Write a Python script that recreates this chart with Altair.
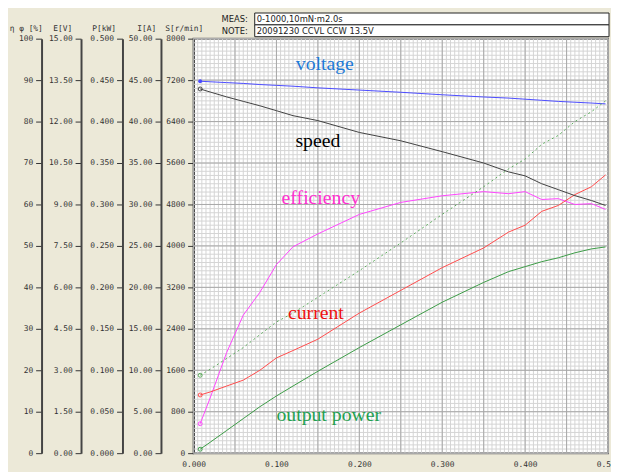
import altair as alt
import pandas as pd

# ---- data ----
torque = [0.008, 0.02, 0.04, 0.06, 0.08, 0.10, 0.12, 0.15, 0.20, 0.25, 0.30,
          0.35, 0.38, 0.40, 0.42, 0.44, 0.46, 0.48, 0.497]          # N·m
voltage = [13.46, 13.44, 13.41, 13.38, 13.34, 13.31, 13.28, 13.22, 13.14, 13.06, 12.97,
           12.89, 12.85, 12.81, 12.77, 12.73, 12.70, 12.67, 12.64]  # V
speed = [7029, 6971, 6876, 6790, 6705, 6610, 6514, 6419, 6190, 6029, 5819,
         5600, 5429, 5352, 5200, 5086, 4971, 4876, 4781]            # r/min
efficiency = [7.1, 13.3, 24.3, 33.3, 38.8, 45.5, 49.8, 52.9, 57.6, 60.5, 62.1,
              63.1, 62.6, 63.1, 61.2, 61.4, 60.0, 60.2, 58.8]       # %
current = [7.02, 7.38, 8.10, 8.81, 10.00, 11.49, 12.38, 13.75, 16.90, 19.64, 22.38,
           24.76, 26.67, 27.50, 29.17, 29.88, 31.19, 32.14, 33.57]  # A
output_power = [0.0048, 0.0131, 0.0274, 0.0417, 0.0560, 0.0690, 0.0810, 0.0988, 0.1274,
                0.1548, 0.1821, 0.2060, 0.2190, 0.2250, 0.2310, 0.2357, 0.2417, 0.2464, 0.2488]  # kW
input_power = [0.0940, 0.1012, 0.1143, 0.1274, 0.1429, 0.1583, 0.1690, 0.1881, 0.2202,
               0.2536, 0.2881, 0.3214, 0.3429, 0.3548, 0.3726, 0.3833, 0.4000, 0.4119, 0.4250]  # kW

x_ticks = [0.0, 0.1, 0.2, 0.3, 0.4, 0.5]
eta_ticks = [0, 10, 20, 30, 40, 50, 60, 70, 80, 90, 100]
e_ticks = [0.0, 1.5, 3.0, 4.5, 6.0, 7.5, 9.0, 10.5, 12.0, 13.5, 15.0]
p_ticks = [0.0, 0.05, 0.1, 0.15, 0.2, 0.25, 0.3, 0.35, 0.4, 0.45, 0.5]
i_ticks = [0, 5, 10, 15, 20, 25, 30, 35, 40, 45, 50]
s_ticks = [0, 800, 1600, 2400, 3200, 4000, 4800, 5600, 6400, 7200, 8000]

meas_text = "0-1000,10mN·m2.0s"
note_text = "20091230 CCVL CCW 13.5V"

df = pd.DataFrame({"t": torque, "E": voltage, "S": speed, "eta": efficiency,
                   "I": current, "P2": output_power, "P1": input_power})
first = df.head(1)
one = pd.DataFrame({"k": [0]})

MONO = "DejaVu Sans Mono"
SERIF = "Liberation Serif"
W, H = 420, 420

xscale = alt.Scale(domain=[0, 0.5], nice=False, zero=False)
xaxis = alt.Axis(values=x_ticks, format=".3f", title=None, ticks=False, domain=False,
                 grid=False, labelPadding=8, labelFont=MONO, labelFontSize=8,
                 labelColor="#333", labelFlush=False)


def X(field):
    return alt.X(field, type="quantitative", scale=xscale, axis=xaxis)


def Y(field, domain, offset, title, fmt, values, title_x):
    return alt.Y(field, type="quantitative",
                 scale=alt.Scale(domain=domain, nice=False, zero=True),
                 axis=alt.Axis(orient="left", offset=offset, values=values, format=fmt,
                               title=title, titleAngle=0, titleX=title_x, titleY=-10,
                               titleAlign="center", titleBaseline="middle",
                               titleFont=MONO, titleFontSize=8, titleFontWeight="normal",
                               titleColor="#333", labelFont=MONO, labelFontSize=8,
                               labelColor="#333", labelPadding=3, labelOverlap=False,
                               tickSize=6, tickColor="#333", domainColor="#444",
                               domainWidth=2, grid=False))


def series(field, y, color, dash=None, filled=False):
    line_kw = dict(color=color, strokeWidth=1)
    if dash:
        line_kw["strokeDash"] = dash
    line = alt.Chart(df).mark_line(**line_kw).encode(x=X("t"), y=y)
    pt = alt.Chart(first).mark_point(color=color, size=16, strokeWidth=1,
                                     filled=filled, opacity=1).encode(x=X("t"), y=y)
    return alt.layer(line, pt)


# ---- grid ----
gy = alt.Y("data", type="quantitative", scale=alt.Scale(domain=[0, 100], nice=False), axis=None)
grid_minor_v = alt.Chart(alt.sequence(0, 0.5001, 0.005)).mark_rule(
    color="#d4d4d4", strokeWidth=1).encode(x=X("data"), y=alt.value(0), y2=alt.value(H))
grid_major_v = alt.Chart(alt.sequence(0, 0.5001, 0.05)).mark_rule(
    color="#a8a8a8", strokeWidth=1).encode(x=X("data"), y=alt.value(0), y2=alt.value(H))
grid_minor_h = alt.Chart(alt.sequence(0, 100.1, 1)).mark_rule(
    color="#d4d4d4", strokeWidth=1).encode(y=gy, x=alt.value(0), x2=alt.value(W))
grid_major_h = alt.Chart(alt.sequence(0, 100.1, 10)).mark_rule(
    color="#a8a8a8", strokeWidth=1).encode(y=gy, x=alt.value(0), x2=alt.value(W))
grid = alt.layer(grid_minor_v, grid_minor_h, grid_major_v, grid_major_h)

# ---- series with their own axes ----
eta_layer = series("eta", Y("eta", [0, 100], 154, "η φ [%]", "d", eta_ticks, -16), "#ff44ff")
e_layer = series("E", Y("E", [0, 15], 114, "E[V]", ".2f", e_ticks, -19), "#4a4aff", filled=True)
p_layer = alt.layer(
    series("P2", Y("P2", [0, 0.5], 72, "P[kW]", ".3f", p_ticks, -19), "#3a9a44"),
    series("P1", Y("P1", [0, 0.5], 72, "P[kW]", ".3f", p_ticks, -19), "#5aaa5a", dash=[2, 3]),
)
i_layer = series("I", Y("I", [0, 50], 33, "I[A]", ".2f", i_ticks, -15), "#ff4a4a")
s_layer = series("S", Y("S", [0, 8000], 0, "S[r/min]", "d", s_ticks, -10), "#404040")


# ---- annotations ----
def label(text, color, px, py):
    return alt.Chart(one).mark_text(text=text, font=SERIF, fontSize=20, color=color,
                                    align="center", baseline="middle").encode(
        x=alt.value(px), y=alt.value(py))


labels = alt.layer(
    label("voltage", "#1e7ad6", 133, 26),
    label("speed", "#000000", 126, 104),
    label("efficiency", "#ff30d0", 129, 162),
    label("current", "#ee1111", 124, 278),
    label("output power", "#1fa050", 137, 381),
)


def box(y0, y1):
    return alt.Chart(one).mark_rect(fill="white", stroke="#222", strokeWidth=1).encode(
        x=alt.value(62), x2=alt.value(421), y=alt.value(y0), y2=alt.value(y1))


def htext(text, px, py, align):
    return alt.Chart(one).mark_text(text=text, font="DejaVu Sans", fontSize=8.5,
                                    color="#222", align=align, baseline="middle").encode(
        x=alt.value(px), y=alt.value(py))


header = alt.layer(
    box(-26, -14), box(-14, -2),
    htext("MEAS:", 55, -20, "right"), htext("NOTE:", 55, -8, "right"),
    htext(meas_text, 64, -20, "left"), htext(note_text, 64, -8, "left"),
)

chart = alt.layer(grid, eta_layer, e_layer, p_layer, i_layer, s_layer, labels, header).resolve_scale(
    y="independent"
).properties(
    width=W, height=H,
    autosize=alt.AutoSizeParams(type="none"),
    padding={"left": 188, "top": 28, "right": 3, "bottom": 16},
    background="#ece9d8",
).configure_view(fill="white", stroke="#6a6a6a", strokeWidth=2)

chart.save("out.html", embed_options={"renderer": "svg", "actions": False})
